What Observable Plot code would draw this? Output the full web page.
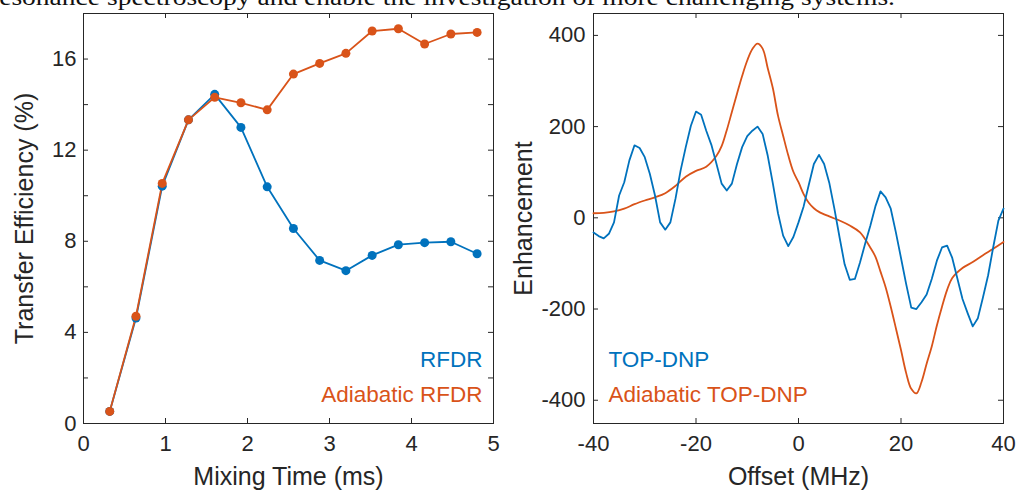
<!DOCTYPE html>
<html><head><meta charset="utf-8">
<script src="https://cdn.jsdelivr.net/npm/d3@7"></script>
<script src="https://cdn.jsdelivr.net/npm/@observablehq/plot@0.6"></script>
<style>
html,body{margin:0;padding:0;background:#fff;width:1016px;height:491px;overflow:hidden;}
body{position:relative;}
#left,#right{position:absolute;top:0;}
#left{left:0;} #right{left:508px;}
#toptext{position:absolute;left:0;top:0;}
</style></head><body>
<svg id="toptext" width="1016" height="20"><text x="-10" y="5" font-family="'Liberation Serif', serif" font-size="24" fill="#111" textLength="905" lengthAdjust="spacingAndGlyphs">resonance spectroscopy and enable the investigation of more challenging systems.</text></svg>
<div id="left"></div><div id="right"></div>
<script>
// ---- Left panel data ----
const mixingTime = [0.32, 0.64, 0.96, 1.28, 1.60, 1.92, 2.24, 2.56, 2.88, 3.20, 3.52, 3.84, 4.16, 4.48, 4.80];
const rfdr = [0.53, 4.63, 10.42, 13.33, 14.45, 13.0, 10.39, 8.56, 7.16, 6.71, 7.38, 7.85, 7.94, 7.98, 7.45];
const adiabaticRfdr = [0.53, 4.71, 10.54, 13.33, 14.32, 14.08, 13.77, 15.34, 15.81, 16.25, 17.23, 17.33, 16.66, 17.10, 17.17];
const leftXTicks = [0, 1, 2, 3, 4, 5];
const leftYTickLabels = [0, 4, 8, 12, 16];
const leftYTickMarks = [0, 2, 4, 6, 8, 10, 12, 14, 16, 18];

// ---- Right panel data ----
const offsetTop = d3.range(-40, 41); // integer MHz grid, -40..40
const topDnp = [-32, -40, -45, -35, -10, 49, 78, 126, 159, 153,
  133, 96, 49, -10, -26, -10, 42, 104, 155, 202,
  233, 226, 191, 160, 118, 75, 60, 75, 118, 155,
  179, 191, 200, 184, 136, 75, 10, -39, -62, -42,
  -10, 25, 72, 118, 138, 118, 77, 20, -42, -102,
  -136, -134, -98, -57, -18, 25, 58, 45, 20, -32,
  -88, -145, -197, -200, -185, -168, -134, -94, -65, -61,
  -88, -133, -178, -209, -238, -220, -174, -126, -64, -6, 20];
const offsetAdiabatic = [-40, -38, -36, -34, -32, -30, -28, -26, -24, -22, -20, -18, -16, -15, -14, -13, -12, -11, -10, -9, -8, -7, -6, -5, -4, -3, -2, -1, 0, 1, 2, 3, 4, 6, 8, 10, 12, 14, 15, 16, 17, 18, 19, 20, 21, 22, 23, 24, 25, 26, 27, 28, 29, 30, 32, 34, 36, 38, 40];
const adiabaticTopDnp = [10, 11, 14, 20, 30, 38, 45, 54, 70, 90, 103, 112, 136, 157, 192, 232, 272, 311, 345, 370, 382, 371, 328, 284, 224, 180, 137, 101, 78, 52, 33, 21, 13, 3, -6, -17, -32, -65, -85, -118, -152, -195, -242, -290, -340, -375, -385, -360, -320, -282, -236, -195, -158, -132, -110, -97, -82, -68, -53];
const rightXTicks = [-40, -20, 0, 20, 40];
const rightYTicks = [-400, -200, 0, 200, 400];

const BLUE = "#0072BD", ORANGE = "#D95319", AX = "#262626";
const FONT = "'Liberation Sans', Arial, Helvetica, sans-serif";
const fmt = d => String(d); // plain hyphen-minus, no decimals

function boxTicks(xTicks, yTicks, w, h, len) {
  return [
    Plot.tickX(xTicks, {x: d => d, stroke: AX, strokeWidth: 1, insetTop: h - len}),
    Plot.tickX(xTicks, {x: d => d, stroke: AX, strokeWidth: 1, insetBottom: h - len}),
    Plot.tickY(yTicks, {y: d => d, stroke: AX, strokeWidth: 1, insetRight: w - len}),
    Plot.tickY(yTicks, {y: d => d, stroke: AX, strokeWidth: 1, insetLeft: w - len})
  ];
}

const W = 508, H = 491;
// Left
{
  const mL = 83, mR = 15, mT = 13, mB = 68;
  const pw = W - mL - mR, ph = H - mT - mB;
  const leftData = [
    ...mixingTime.map((t, i) => ({t, v: rfdr[i], s: "RFDR"})),
    ...mixingTime.map((t, i) => ({t, v: adiabaticRfdr[i], s: "Adiabatic RFDR"}))
  ];
  const chart = Plot.plot({
    width: W, height: H, marginLeft: mL, marginRight: mR, marginTop: mT, marginBottom: mB,
    style: {fontFamily: FONT, fontSize: "22px", color: AX, background: "transparent", overflow: "visible"},
    x: {domain: [0, 5]},
    y: {domain: [0, 18]},
    color: {domain: ["RFDR", "Adiabatic RFDR"], range: [BLUE, ORANGE]},
    marks: [
      Plot.frame({stroke: AX, strokeWidth: 1}),
      ...boxTicks(leftXTicks, leftYTickMarks, pw, ph, 5),
      Plot.axisX({ticks: leftXTicks, tickFormat: fmt, tickSize: 0, tickPadding: 12, label: null, fontSize: 22, fill: AX}),
      Plot.axisY({ticks: leftYTickLabels, tickFormat: fmt, tickSize: 0, tickPadding: 7, label: null, fontSize: 22, fill: AX}),
      Plot.text(["Mixing Time (ms)"], {frameAnchor: "bottom", dy: 53, textAnchor: "middle", lineAnchor: "middle", fontSize: 25, fill: AX}),
      Plot.text(["Transfer Efficiency (%)"], {frameAnchor: "left", dx: -59, rotate: -90, textAnchor: "middle", lineAnchor: "middle", fontSize: 25, fill: AX}),
      Plot.line(leftData, {x: "t", y: "v", z: "s", stroke: "s", strokeWidth: 1.8}),
      Plot.dot(leftData, {x: "t", y: "v", fill: "s", r: 4.5}),
      Plot.text(["RFDR"], {frameAnchor: "bottom-right", dx: -11, dy: -57, textAnchor: "end", lineAnchor: "bottom", fontSize: 22.5, fill: BLUE}),
      Plot.text(["Adiabatic RFDR"], {frameAnchor: "bottom-right", dx: -11, dy: -22, textAnchor: "end", lineAnchor: "bottom", fontSize: 22.5, fill: ORANGE})
    ]
  });
  document.getElementById("left").appendChild(chart);
}
// Right
{
  const mL = 85, mR = 13, mT = 13, mB = 68;
  const pw = W - mL - mR, ph = H - mT - mB;
  const rightData = [
    ...offsetTop.map((x, i) => ({x, v: topDnp[i], s: "TOP-DNP"})),
    ...offsetAdiabatic.map((x, i) => ({x, v: adiabaticTopDnp[i], s: "Adiabatic TOP-DNP"}))
  ];
  const chart = Plot.plot({
    width: W, height: H, marginLeft: mL, marginRight: mR, marginTop: mT, marginBottom: mB,
    style: {fontFamily: FONT, fontSize: "22px", color: AX, background: "transparent", overflow: "visible"},
    x: {domain: [-40, 40]},
    y: {domain: [-451, 448]},
    marks: [
      Plot.frame({stroke: AX, strokeWidth: 1}),
      ...boxTicks(rightXTicks, rightYTicks, pw, ph, 5),
      Plot.axisX({ticks: rightXTicks, tickFormat: fmt, tickSize: 0, tickPadding: 12, label: null, fontSize: 22, fill: AX}),
      Plot.axisY({ticks: rightYTicks, tickFormat: fmt, tickSize: 0, tickPadding: 8, label: null, fontSize: 22, fill: AX}),
      Plot.text(["Offset (MHz)"], {frameAnchor: "bottom", dy: 53, textAnchor: "middle", lineAnchor: "middle", fontSize: 25, fill: AX}),
      Plot.text(["Enhancement"], {frameAnchor: "left", dx: -70, rotate: -90, textAnchor: "middle", lineAnchor: "middle", fontSize: 25, fill: AX}),
      Plot.line(rightData.filter(d => d.s === "Adiabatic TOP-DNP"), {x: "x", y: "v", stroke: ORANGE, strokeWidth: 1.8, curve: "catmull-rom"}),
      Plot.line(rightData.filter(d => d.s === "TOP-DNP"), {x: "x", y: "v", stroke: BLUE, strokeWidth: 1.8}),
      Plot.text(["TOP-DNP"], {frameAnchor: "bottom-left", dx: 15, dy: -57, textAnchor: "start", lineAnchor: "bottom", fontSize: 22.5, fill: BLUE}),
      Plot.text(["Adiabatic TOP-DNP"], {frameAnchor: "bottom-left", dx: 15, dy: -22, textAnchor: "start", lineAnchor: "bottom", fontSize: 22.5, fill: ORANGE})
    ]
  });
  document.getElementById("right").appendChild(chart);
}
</script>
</body></html>
